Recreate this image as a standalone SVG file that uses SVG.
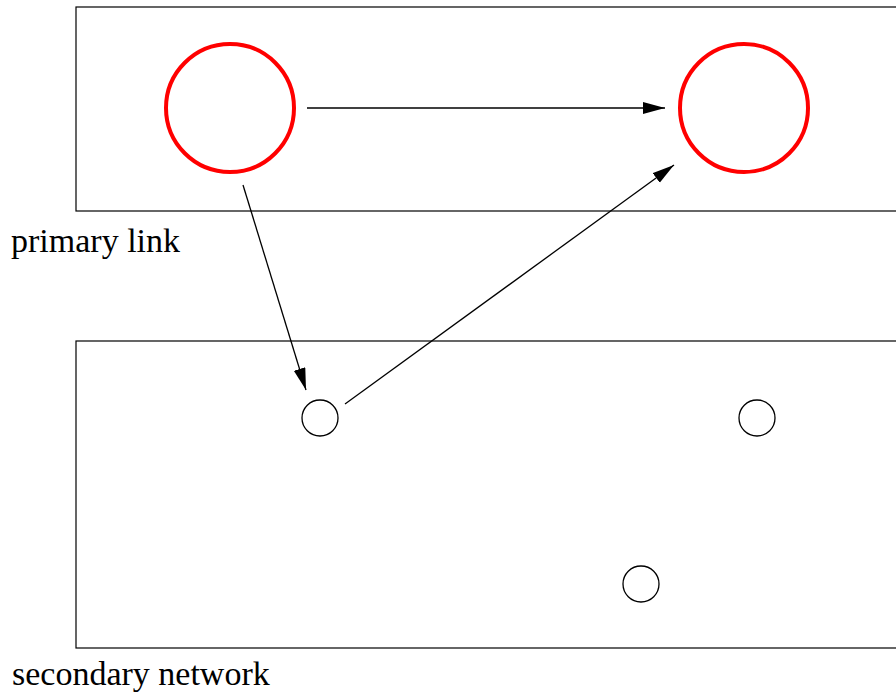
<svg xmlns="http://www.w3.org/2000/svg" width="896" height="695" viewBox="0 0 896 695">
<style>
.box{fill:none;stroke:#000;stroke-width:1.2}
.big{fill:none;stroke:#f00;stroke-width:4}
.small{fill:none;stroke:#000;stroke-width:1.3}
.edge{fill:none;stroke:#000;stroke-width:1.3;marker-end:url(#ah)}
.lbl{font-family:"Liberation Serif",serif;font-size:34px;fill:#000}
</style>
<defs>
<marker id="ah" markerUnits="userSpaceOnUse" markerWidth="24" markerHeight="14" refX="22" refY="6" orient="auto">
<path d="M0,0 L22,6 L0,12 Z" fill="#000"/>
</marker>
</defs>
<rect width="896" height="695" fill="#fff"/>
<g id="primary">
<rect class="box" x="76" y="7" width="830" height="204"/>
<text class="lbl" x="11" y="252">primary link</text>
</g>
<g id="secondary">
<rect class="box" x="76" y="341" width="830" height="307"/>
<text class="lbl" x="12" y="685">secondary network</text>
</g>
<g id="p1"><circle class="big" cx="230" cy="108" r="64"/></g>
<g id="p2"><circle class="big" cx="744" cy="108" r="64"/></g>
<g id="s1"><circle class="small" cx="320" cy="418" r="18"/></g>
<g id="s2"><circle class="small" cx="757" cy="418" r="18"/></g>
<g id="s3"><circle class="small" cx="641" cy="584" r="18"/></g>
<g id="connectors">
<line class="edge" x1="307" y1="108" x2="665" y2="108"/>
<line class="edge" x1="243" y1="185" x2="306" y2="390"/>
<line class="edge" x1="345" y1="404" x2="674" y2="165"/>
</g>
</svg>
